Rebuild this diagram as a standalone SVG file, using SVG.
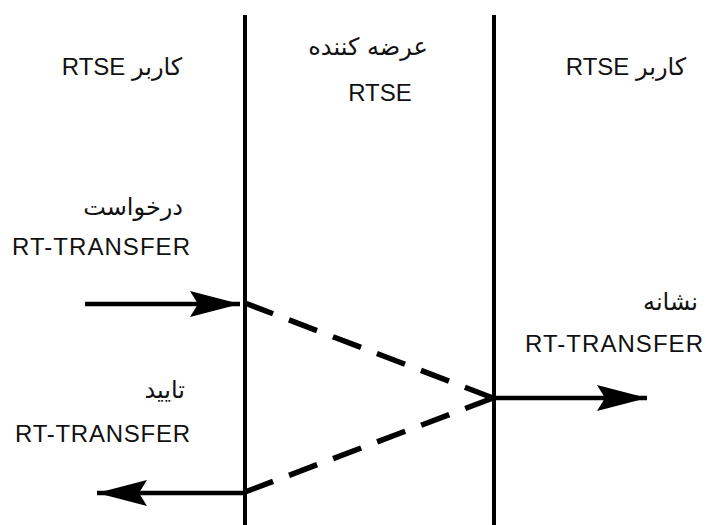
<svg xmlns="http://www.w3.org/2000/svg" width="706" height="525" viewBox="0 0 706 525">
<style>
.lat{font-family:"Liberation Sans","DejaVu Sans",sans-serif;font-size:24px;fill:#111}
.fa{font-family:"DejaVu Sans","Noto Sans",sans-serif;font-size:24px;fill:#111}
.life{stroke:#000;stroke-width:4;fill:none}
.msg{stroke:#000;stroke-width:4.5;fill:none}
.dash{stroke:#000;stroke-width:5.5;fill:none;stroke-dasharray:30 17.1}
</style>
<defs>
<marker id="ah" markerUnits="userSpaceOnUse" markerWidth="60" markerHeight="30" viewBox="-52 -15 56 30" refX="0" refY="0" orient="auto">
<path d="M0,0 L-50,-13 L-42,0 L-50,13 Z" fill="#000"/>
</marker>
</defs>
<rect width="706" height="525" fill="#fff"/>
<g id="lifeline-left"><line class="life" x1="245" y1="15" x2="245" y2="525"/></g>
<g id="lifeline-right"><line class="life" x1="494" y1="15" x2="494" y2="525"/></g>
<g id="header-user-left"><text class="lat" x="122" y="75" text-anchor="middle" direction="rtl"><tspan class="fa" font-size="26">کاربر</tspan> RTSE</text></g>
<g id="header-provider"><text class="fa" x="368" y="55" text-anchor="middle" direction="rtl" font-size="26">عرضه کننده</text><text class="lat" x="380" y="101" text-anchor="middle">RTSE</text></g>
<g id="header-user-right"><text class="lat" x="626" y="75" text-anchor="middle" direction="rtl"><tspan class="fa" font-size="26">کاربر</tspan> RTSE</text></g>
<g id="label-request"><text class="fa" x="183" y="215" text-anchor="end" font-size="24">درخواست</text><text class="lat" x="190" y="255" text-anchor="end" textLength="178">RT-TRANSFER</text></g>
<g id="label-indication"><text class="fa" x="698" y="310" text-anchor="end" font-size="23">نشانه</text><text class="lat" x="703" y="352" text-anchor="end" textLength="178">RT-TRANSFER</text></g>
<g id="label-confirm"><text class="fa" x="185" y="398" text-anchor="end" font-size="25">تایید</text><text class="lat" x="190" y="442" text-anchor="end" textLength="175">RT-TRANSFER</text></g>
<g id="connectors">
<line class="msg" x1="85" y1="304" x2="240" y2="304" marker-end="url(#ah)"/>
<path class="dash" d="M245,303 L493,398"/>
<path class="dash" d="M245,492 L493,398"/>
<line class="msg" x1="494" y1="398" x2="647" y2="398" marker-end="url(#ah)"/>
<line class="msg" x1="247" y1="493" x2="97" y2="493" marker-end="url(#ah)"/>
</g>
</svg>
